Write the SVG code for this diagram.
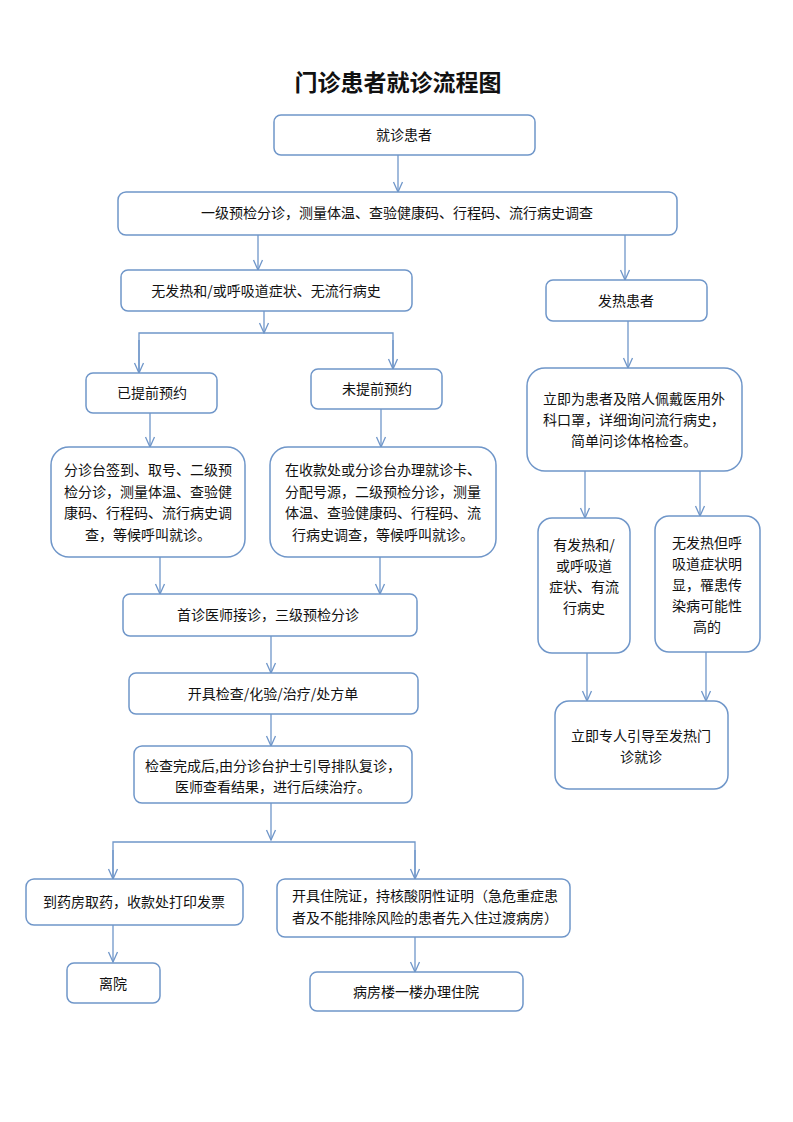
<svg xmlns="http://www.w3.org/2000/svg" width="793" height="1122" viewBox="0 0 793 1122">
<defs>
<style>
.box{fill:#fff;stroke:#6f96c9;stroke-width:1.5}
.ln{fill:none;stroke:#6f96c9;stroke-width:1.3}
.t{font-family:"Noto Sans CJK SC","Noto Sans",sans-serif;font-size:14px;fill:#111;text-anchor:middle}
.title{font-family:"Noto Sans CJK SC",sans-serif;font-size:23px;font-weight:bold;fill:#111;text-anchor:middle}
</style>
<marker id="ah" markerUnits="userSpaceOnUse" markerWidth="12" markerHeight="12" viewBox="0 0 12 12" refX="11" refY="6" orient="auto">
<path d="M1,1.5 L11,6 L1,10.5" fill="none" stroke="#6f96c9" stroke-width="1.3"/>
</marker>
</defs>
<rect width="793" height="1122" fill="#fff"/>
<text class="title" x="398" y="91">门诊患者就诊流程图</text>

<g id="connectors">
<line class="ln" x1="398" y1="155" x2="398" y2="192" marker-end="url(#ah)"/>
<line class="ln" x1="258" y1="235" x2="258" y2="270" marker-end="url(#ah)"/>
<line class="ln" x1="625" y1="235" x2="625" y2="280" marker-end="url(#ah)"/>
<line class="ln" x1="264" y1="311" x2="264" y2="333" marker-end="url(#ah)"/>
<polyline class="ln" points="139,373 139,333 393,333 393,369"/>
<line class="ln" x1="139" y1="340" x2="139" y2="373" marker-end="url(#ah)"/>
<line class="ln" x1="393" y1="340" x2="393" y2="369" marker-end="url(#ah)"/>
<line class="ln" x1="628" y1="321" x2="628" y2="368" marker-end="url(#ah)"/>
<line class="ln" x1="150" y1="413" x2="150" y2="447" marker-end="url(#ah)"/>
<line class="ln" x1="381" y1="409" x2="381" y2="447" marker-end="url(#ah)"/>
<line class="ln" x1="160" y1="557" x2="160" y2="594" marker-end="url(#ah)"/>
<line class="ln" x1="380" y1="557" x2="380" y2="594" marker-end="url(#ah)"/>
<line class="ln" x1="271" y1="636" x2="271" y2="673" marker-end="url(#ah)"/>
<line class="ln" x1="271" y1="714" x2="271" y2="746" marker-end="url(#ah)"/>
<line class="ln" x1="271" y1="803" x2="271" y2="840" marker-end="url(#ah)"/>
<polyline class="ln" points="113,879 113,842 415,842 415,879"/>
<line class="ln" x1="113" y1="850" x2="113" y2="879" marker-end="url(#ah)"/>
<line class="ln" x1="415" y1="850" x2="415" y2="879" marker-end="url(#ah)"/>
<line class="ln" x1="113" y1="925" x2="113" y2="962" marker-end="url(#ah)"/>
<line class="ln" x1="415" y1="937" x2="415" y2="972" marker-end="url(#ah)"/>
<line class="ln" x1="585" y1="471" x2="585" y2="518" marker-end="url(#ah)"/>
<line class="ln" x1="700" y1="471" x2="700" y2="516" marker-end="url(#ah)"/>
<line class="ln" x1="587" y1="653" x2="587" y2="701" marker-end="url(#ah)"/>
<line class="ln" x1="706" y1="652" x2="706" y2="701" marker-end="url(#ah)"/>
</g>

<g id="n1"><rect class="box" x="274" y="115" width="261" height="40" rx="7"/><text class="t" x="404" y="140">就诊患者</text></g>
<g id="n2"><rect class="box" x="118" y="192" width="559" height="43" rx="8"/><text class="t" x="397" y="218">一级预检分诊，测量体温、查验健康码、行程码、流行病史调查</text></g>
<g id="n3"><rect class="box" x="121" y="270" width="291" height="41" rx="7"/><text class="t" x="266" y="296">无发热和/或呼吸道症状、无流行病史</text></g>
<g id="n4"><rect class="box" x="546" y="280" width="161" height="41" rx="7"/><text class="t" x="626" y="306">发热患者</text></g>
<g id="n5"><rect class="box" x="86" y="373" width="131" height="40" rx="7"/><text class="t" x="152" y="398">已提前预约</text></g>
<g id="n6"><rect class="box" x="311" y="369" width="131" height="40" rx="7"/><text class="t" x="377" y="394">未提前预约</text></g>
<g id="n7"><rect class="box" x="527" y="368" width="215" height="103" rx="18"/>
<text class="t" x="634" y="404">立即为患者及陪人佩戴医用外</text>
<text class="t" x="634" y="425">科口罩，详细询问流行病史，</text>
<text class="t" x="634" y="446">简单问诊体格检查。</text></g>
<g id="n8"><rect class="box" x="51" y="447" width="194" height="110" rx="18"/>
<text class="t" x="148" y="475">分诊台签到、取号、二级预</text>
<text class="t" x="148" y="497">检分诊，测量体温、查验健</text>
<text class="t" x="148" y="518">康码、行程码、流行病史调</text>
<text class="t" x="148" y="540">查，等候呼叫就诊。</text></g>
<g id="n9"><rect class="box" x="270" y="447" width="226" height="110" rx="18"/>
<text class="t" x="383" y="475">在收款处或分诊台办理就诊卡、</text>
<text class="t" x="383" y="497">分配号源，二级预检分诊，测量</text>
<text class="t" x="383" y="518">体温、查验健康码、行程码、流</text>
<text class="t" x="383" y="540">行病史调查，等候呼叫就诊。</text></g>
<g id="n10"><rect class="box" x="538" y="518" width="92" height="135" rx="14"/>
<text class="t" x="584" y="550">有发热和/</text>
<text class="t" x="584" y="571">或呼吸道</text>
<text class="t" x="584" y="592">症状、有流</text>
<text class="t" x="584" y="613">行病史</text></g>
<g id="n11"><rect class="box" x="655" y="516" width="105" height="136" rx="14"/>
<text class="t" x="707" y="548">无发热但呼</text>
<text class="t" x="707" y="569">吸道症状明</text>
<text class="t" x="707" y="590">显，罹患传</text>
<text class="t" x="707" y="611">染病可能性</text>
<text class="t" x="707" y="632">高的</text></g>
<g id="n12"><rect class="box" x="123" y="594" width="294" height="42" rx="7"/><text class="t" x="268" y="620">首诊医师接诊，三级预检分诊</text></g>
<g id="n13"><rect class="box" x="129" y="673" width="289" height="41" rx="7"/><text class="t" x="273" y="699">开具检查/化验/治疗/处方单</text></g>
<g id="n14"><rect class="box" x="134" y="746" width="278" height="57" rx="8"/>
<text class="t" x="273" y="771">检查完成后,由分诊台护士引导排队复诊，</text>
<text class="t" x="273" y="792">医师查看结果，进行后续治疗。</text></g>
<g id="n15"><rect class="box" x="555" y="701" width="173" height="88" rx="14"/>
<text class="t" x="641" y="741">立即专人引导至发热门</text>
<text class="t" x="641" y="762">诊就诊</text></g>
<g id="n16"><rect class="box" x="26" y="879" width="217" height="46" rx="8"/><text class="t" x="134" y="907">到药房取药，收款处打印发票</text></g>
<g id="n17"><rect class="box" x="277" y="879" width="293" height="58" rx="8"/>
<text class="t" x="425" y="901">开具住院证，持核酸阴性证明（急危重症患</text>
<text class="t" x="425" y="923">者及不能排除风险的患者先入住过渡病房）</text></g>
<g id="n18"><rect class="box" x="67" y="963" width="93" height="40" rx="7"/><text class="t" x="113" y="989">离院</text></g>
<g id="n19"><rect class="box" x="310" y="972" width="213" height="39" rx="7"/><text class="t" x="416" y="997">病房楼一楼办理住院</text></g>
</svg>
